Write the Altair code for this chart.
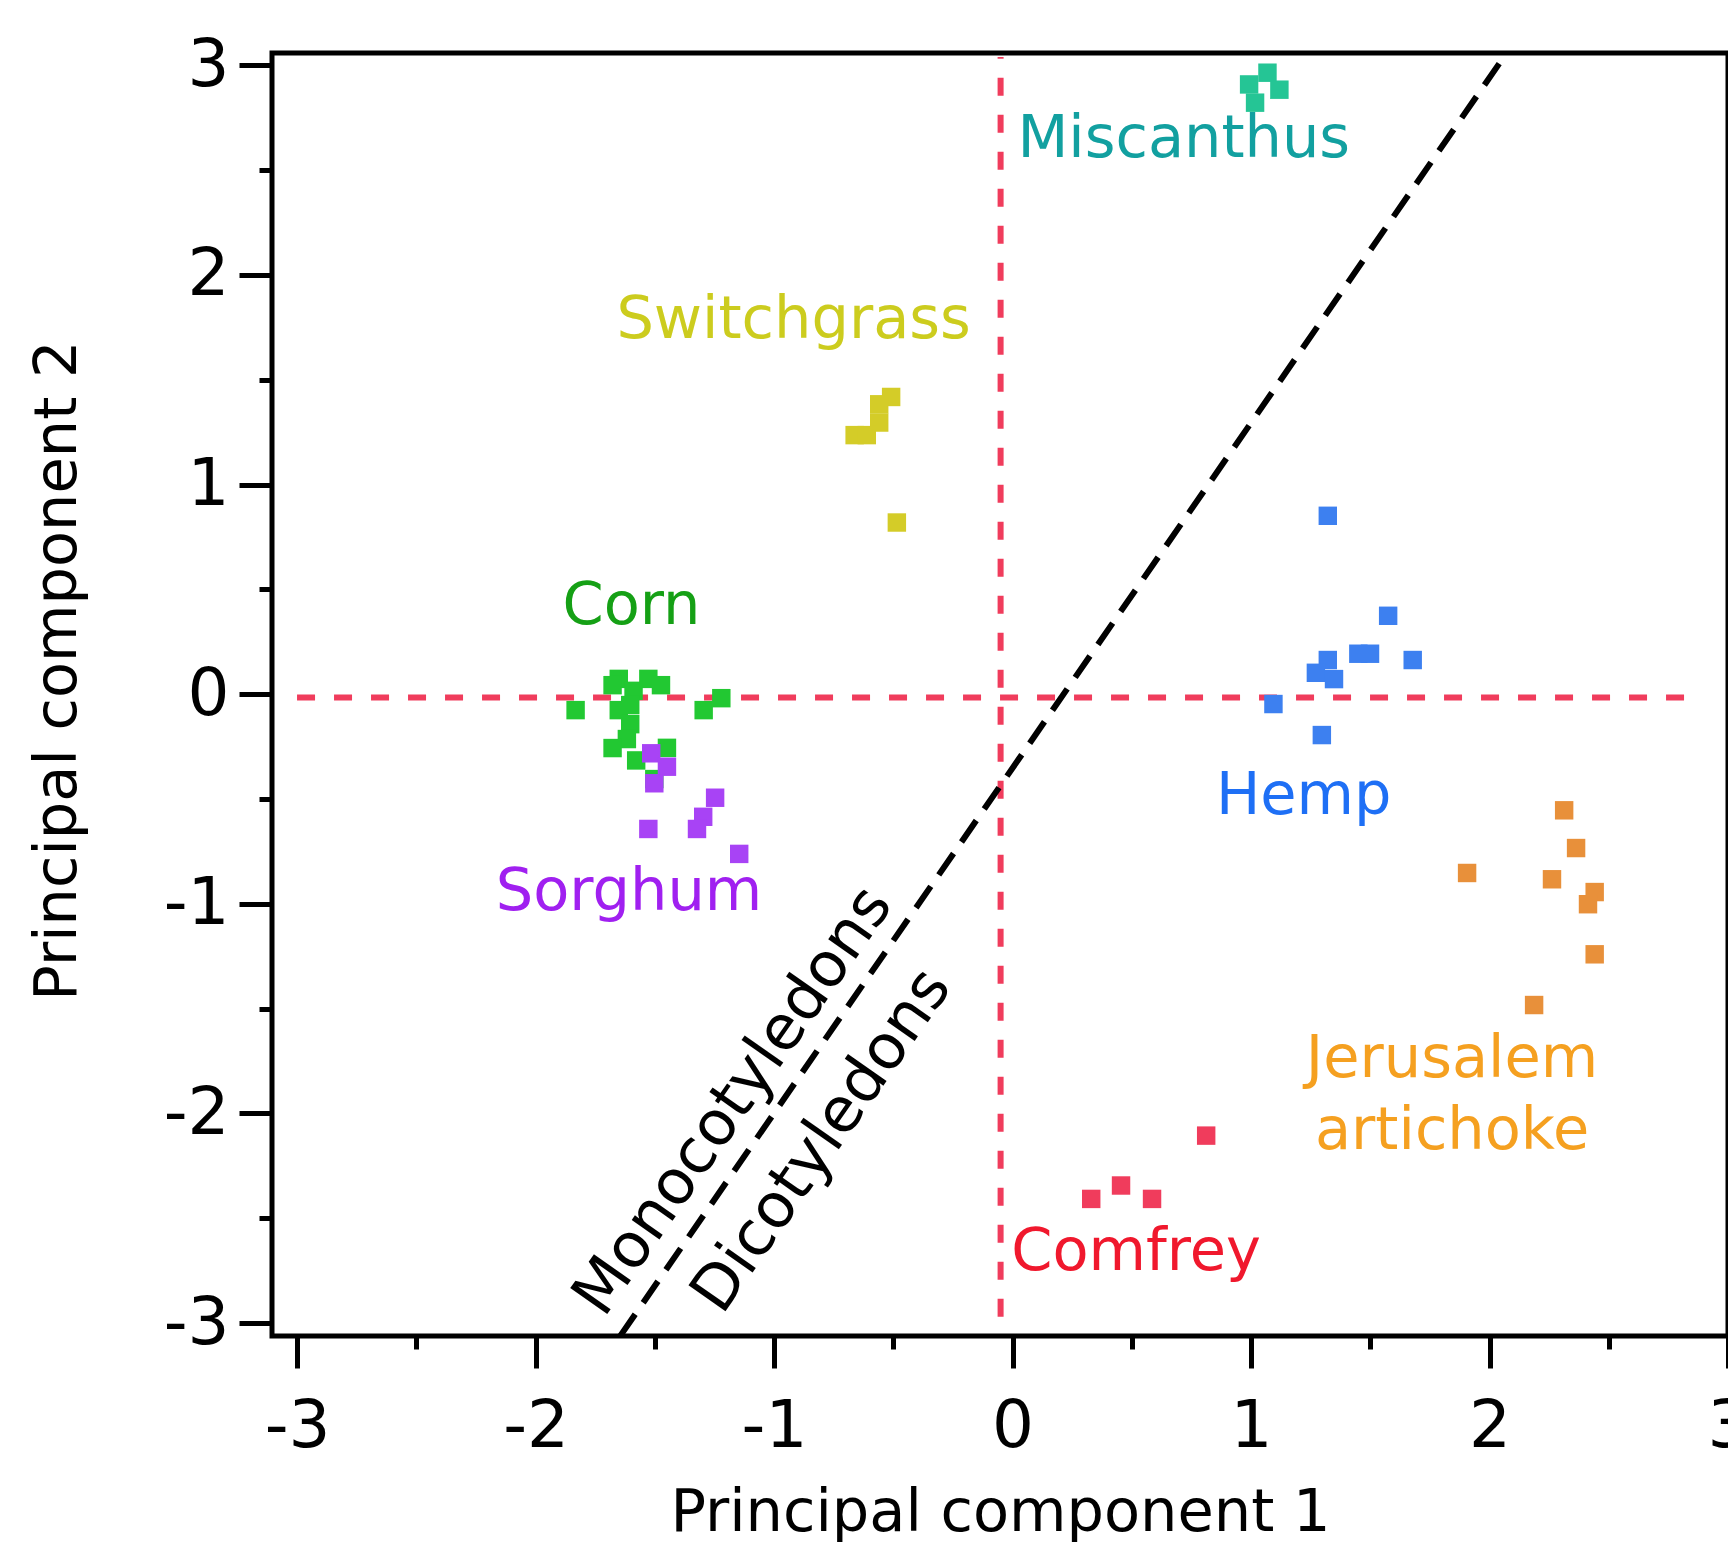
import altair as alt
import pandas as pd

# ---------------- data ----------------
groups = ["Miscanthus", "Switchgrass", "Corn", "Sorghum", "Hemp", "Jerusalem artichoke", "Comfrey"]
point_colors = ["#25c595", "#d4cc28", "#22c832", "#a843f5", "#3d80f0", "#e8903a", "#f03c5c"]

miscanthus_x = [1.069, 0.992, 1.119, 1.017]
miscanthus_y = [2.965, 2.909, 2.884, 2.822]

switchgrass_x = [-0.509, -0.559, -0.559, -0.662, -0.611, -0.485]
switchgrass_y = [1.418, 1.383, 1.296, 1.236, 1.236, 0.819]

corn_x = [-1.832, -1.651, -1.677, -1.589, -1.527, -1.474, -1.651, -1.603, -1.603,
          -1.617, -1.677, -1.578, -1.502, -1.449, -1.295, -1.221]
corn_y = [-0.076, 0.073, 0.043, 0.016, 0.073, 0.043, -0.076, -0.052, -0.143,
          -0.214, -0.257, -0.316, -0.405, -0.256, -0.076, -0.019]

sorghum_x = [-1.515, -1.449, -1.502, -1.247, -1.297, -1.323, -1.527, -1.146]
sorghum_y = [-0.282, -0.346, -0.425, -0.494, -0.585, -0.643, -0.643, -0.762]

hemp_x = [1.322, 1.575, 1.450, 1.499, 1.322, 1.272, 1.348, 1.678, 1.094, 1.297]
hemp_y = [0.851, 0.374, 0.193, 0.193, 0.163, 0.102, 0.072, 0.163, -0.047, -0.195]

artichoke_x = [2.313, 2.363, 1.906, 2.262, 2.441, 2.413, 2.441, 2.187]
artichoke_y = [-0.554, -0.734, -0.853, -0.883, -0.944, -1.002, -1.241, -1.483]

comfrey_x = [0.812, 0.330, 0.455, 0.585]
comfrey_y = [-2.106, -2.408, -2.344, -2.408]

# group labels
label_text = ["Miscanthus", "Switchgrass", "Corn", "Sorghum", "Hemp", "Jerusalem", "artichoke", "Comfrey"]
label_x = [0.718, -0.918, -1.598, -1.608, 1.221, 1.843, 1.843, 0.518]
label_y = [2.650, 1.784, 0.422, -0.946, -0.486, -1.742, -2.086, -2.661]
label_colors = ["#12a0a0", "#cccc1e", "#15a015", "#a020f0", "#1e6ff5", "#f5a020", "#f5a020", "#f0182d"]

# separator line and its labels
sep_x = [-1.644]
sep_y = [-3.06]
sep_x2 = [2.072]
sep_y2 = [3.06]
side_text = ["Monocotyledons", "Dicotyledons"]
side_x = [-1.171, -0.80]
side_y = [-1.94, -2.13]

# red reference lines
hline_x = [-3.0]
hline_x2 = [2.83]
hline_y = [-0.016]
vline_x = [-0.05]
vline_y = [-2.97]
vline_y2 = [3.04]

x_ticks = [-3, -2.5, -2, -1.5, -1, -0.5, 0, 0.5, 1, 1.5, 2, 2.5, 3]
y_ticks = [-3, -2.5, -2, -1.5, -1, -0.5, 0, 0.5, 1, 1.5, 2, 2.5, 3]

# ---------------- tables ----------------
series = [
    (miscanthus_x, miscanthus_y), (switchgrass_x, switchgrass_y), (corn_x, corn_y),
    (sorghum_x, sorghum_y), (hemp_x, hemp_y), (artichoke_x, artichoke_y), (comfrey_x, comfrey_y)
]
rows = []
for g, c, (xs, ys) in zip(groups, point_colors, series):
    for xv, yv in zip(xs, ys):
        rows.append({"x": xv, "y": yv, "group": g, "color": c})
points_df = pd.DataFrame(rows)
labels_df = pd.DataFrame({"x": label_x, "y": label_y, "label": label_text, "color": label_colors})
sep_df = pd.DataFrame({"x": sep_x, "y": sep_y, "x2": sep_x2, "y2": sep_y2})
side_df = pd.DataFrame({"x": side_x, "y": side_y, "label": side_text})
hline_df = pd.DataFrame({"x": hline_x, "x2": hline_x2, "y": hline_y})
vline_df = pd.DataFrame({"x": vline_x, "y": vline_y, "y2": vline_y2})

FONT = "DejaVu Sans"
xscale = alt.Scale(domain=[-3.105, 3.0], nice=False, zero=False)
yscale = alt.Scale(domain=[-3.062, 3.059], nice=False, zero=False)

major_test = "abs(datum.value - round(datum.value)) < 0.001"
label_expr = "abs(datum.value - round(datum.value)) < 0.001 ? '' + round(datum.value) : ''"

x_axis = alt.Axis(
    values=x_ticks, title="Principal component 1", labelExpr=label_expr,
    tickSize={"condition": {"test": major_test, "value": 32}, "value": 13},
    tickWidth=5, tickColor="black", labelPadding=26, labelFontSize=66,
    labelFont=FONT, labelColor="black", titleFont=FONT, titleFontSize=59,
    titleFontWeight="normal", titleColor="black", titleBaseline="alphabetic",
    titleY=194, labelFlush=False, labelOverlap=False,
)
y_axis = alt.Axis(
    values=y_ticks, title="Principal component 2", labelExpr=label_expr,
    tickSize={"condition": {"test": major_test, "value": 33}, "value": 13},
    tickWidth=5, tickColor="black", labelPadding=10, labelFontSize=66,
    labelFont=FONT, labelColor="black", titleFont=FONT, titleFontSize=59,
    titleFontWeight="normal", titleColor="black", titleBaseline="alphabetic",
    titleX=-197, titleY=617, titleAngle=270, titleAlign="center",
    labelFlush=False, labelOverlap=False,
)

base_points = alt.Chart(points_df).mark_square(size=340, opacity=1, strokeWidth=0).encode(
    x=alt.X("x:Q", scale=xscale, axis=x_axis),
    y=alt.Y("y:Q", scale=yscale, axis=y_axis),
    color=alt.Color("color:N", scale=None),
)

hline = alt.Chart(hline_df).mark_rule(color="#f03c5c", strokeWidth=6, strokeDash=[18, 19]).encode(
    x=alt.X("x:Q", scale=xscale), x2="x2:Q", y=alt.Y("y:Q", scale=yscale)
)
vline = alt.Chart(vline_df).mark_rule(color="#f03c5c", strokeWidth=6, strokeDash=[18, 19]).encode(
    x=alt.X("x:Q", scale=xscale), y=alt.Y("y:Q", scale=yscale), y2="y2:Q"
)
sep = alt.Chart(sep_df).mark_rule(color="black", strokeWidth=6, strokeDash=[26, 14]).encode(
    x=alt.X("x:Q", scale=xscale), y=alt.Y("y:Q", scale=yscale), x2="x2:Q", y2="y2:Q"
)

labels = alt.Chart(labels_df).mark_text(
    font=FONT, fontSize=59, align="center", baseline="middle"
).encode(
    x=alt.X("x:Q", scale=xscale), y=alt.Y("y:Q", scale=yscale),
    text="label:N", color=alt.Color("color:N", scale=None),
)

side = alt.Chart(side_df).mark_text(
    font=FONT, fontSize=62, align="center", baseline="middle", angle=305, color="black"
).encode(
    x=alt.X("x:Q", scale=xscale), y=alt.Y("y:Q", scale=yscale), text="label:N"
)

chart = alt.layer(hline, vline, sep, base_points, labels, side).properties(
    width=1456, height=1283,
    autosize=alt.AutoSizeParams(type="none"),
    padding={"left": 264, "top": 45, "right": 0, "bottom": 206},
).configure_view(
    stroke="black", strokeWidth=5
).configure_axis(
    grid=False, domain=False
)

chart.save("out.html", embed_options={"renderer": "svg", "actions": False})
